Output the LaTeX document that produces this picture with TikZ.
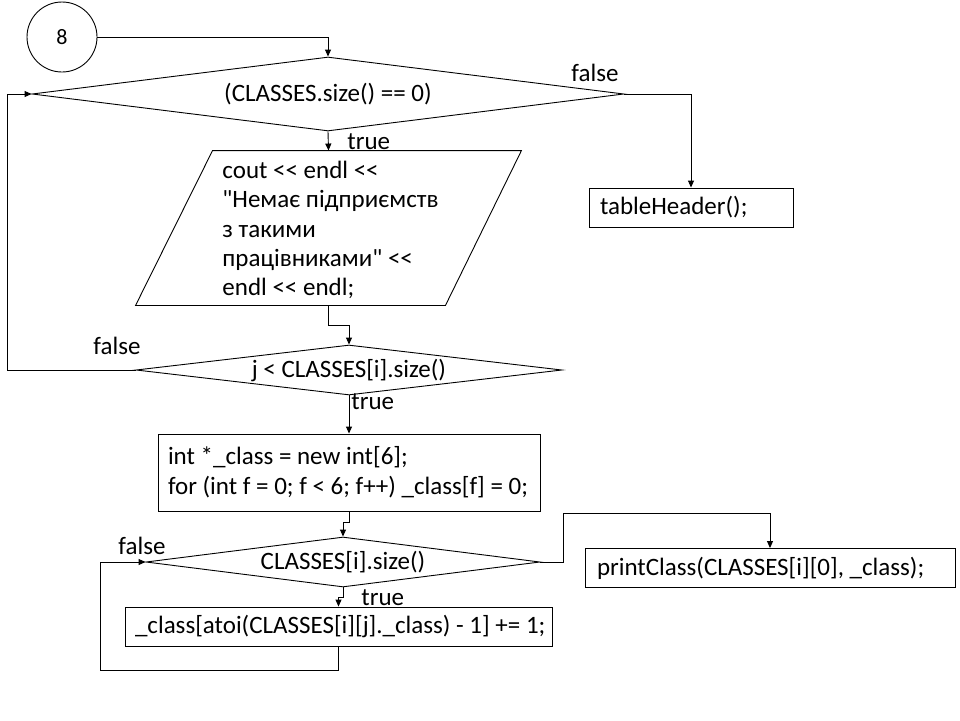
\documentclass[tikz,border=0pt]{standalone}
\usepackage{fontspec}
\newfontfamily\carlito{Carlito}
\usetikzlibrary{shapes.geometric,arrows.meta,calc}

\begin{document}
\begin{tikzpicture}[x=1pt,y=-1pt,
  font=\carlito\fontsize{25}{29}\selectfont,
  line width=0.9pt,
  arr/.style={draw=black,-{Triangle[length=7pt,width=6pt]}},
  dec/.style={draw, diamond, inner sep=0pt},
  proc/.style={draw, rectangle, align=flush left, inner ysep=0pt, inner xsep=#1},
  proc/.default=10pt,
  lbl/.style={inner sep=0pt}
]
\useasboundingbox (0,0) rectangle (960,720);

% connector circle
\node[draw, circle, minimum size=70pt, inner sep=0pt, font=\carlito\fontsize{22}{24}\selectfont] (c8) at (62,37) {8};

% first decision
\node[dec, minimum width=592pt, minimum height=74pt, aspect=8] (d1) at (328,94) {(CLASSES.size() == 0)};
\node[lbl] (f1) at (595,73) {false};
\node[lbl, anchor=west] (t1) at (347,142) {true};

\node[proc=11pt, text width=182pt, minimum height=39pt] (th) at (691,207.5) {\mbox{tableHeader();}};

% output block
\node[minimum width=385pt, minimum height=154pt, inner sep=0pt] (io) at (328.5,228) {};
\draw ($(io.north west)+(77,0)$) -- (io.north east) -- ($(io.south east)+(-76,0)$) -- (io.south west) -- cycle;
\node[lbl, anchor=west, align=flush left, font=\carlito\fontsize{25}{29.2}\selectfont] (iotxt) at (222,230)
  {cout << endl <<\\ "Немає підприємств\\ з такими\\ працівниками" <<\\ endl << endl;};

% second decision
\node[dec, minimum width=426pt, minimum height=50pt, aspect=8.5] (d2) at (349,370) {j < CLASSES[i].size()};
\node[lbl] (f2) at (117,346) {false};
\node[lbl, anchor=west] (t2) at (351,402) {true};

\node[proc, text width=362pt, minimum height=77pt, font=\carlito\fontsize{25}{30}\selectfont] (b3) at (349,472.5)
  {\mbox{int *\_class = new int[6];}\\ \mbox{for (int f = 0; f < 6; f++) \_class[f] = 0;}};

% third decision
\node[dec, minimum width=394pt, minimum height=50pt, aspect=7.9] (d3) at (343,562) {CLASSES[i].size()};
\node[lbl] (f3) at (142,546) {false};
\node[lbl, anchor=west] (t3) at (361,598) {true};

\node[proc, text width=407pt, minimum height=39pt] (b4) at (338.5,626.5)
  {\mbox{\_class[atoi(CLASSES[i][j].\_class) - 1] += 1;}};

\node[proc=12pt, text width=346pt, minimum height=39pt] (pc) at (770,568)
  {\mbox{printClass(CLASSES[i][0], \_class);}};

% connectors
\draw[arr] (c8.east) -| (d1.north);
\draw[arr] (d1.east) -| (th.north);
\draw[arr] (d1.south) -- (io.north);
\draw[arr] (io.south) -- ($(io.south)+(0,20)$) -| (d2.north);
\draw[arr] (d2.west) -| ($(d1.west)+(-24,0)$) -- (d1.west);
\draw[arr] (d2.south) -- (b3.north);
\draw[arr] (b3.south) -- ($(b3.south)+(0,11)$) -| (d3.north);
\draw[arr] (d3.south) -- ($(d3.south)+(0,10)$) -| (b4.north);
\draw[arr] (b4.south) -- ($(b4.south)+(0,24)$) -| ($(d3.west)+(-45,0)$) -- (d3.west);
\draw[arr] (d3.east) -- ($(d3.east)+(23,0)$) |- ($(pc.north)+(0,-35)$) -- (pc.north);
\end{tikzpicture}
\end{document}
